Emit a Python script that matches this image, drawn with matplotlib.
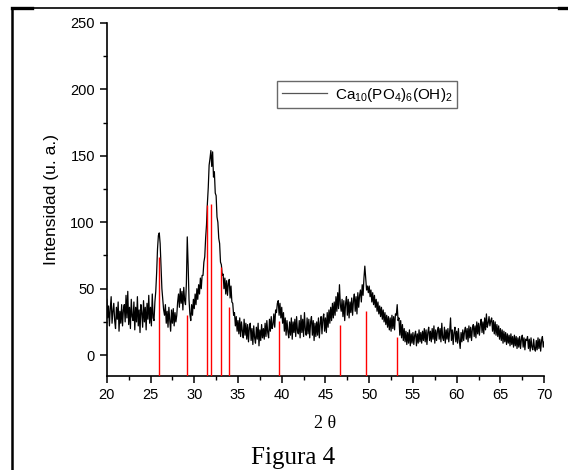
import matplotlib
matplotlib.use("Agg")
import matplotlib.pyplot as plt
import numpy as np
from matplotlib.lines import Line2D

plt.rcParams['font.family'] = ['Liberation Sans', 'DejaVu Sans']
plt.rcParams['mathtext.fontset'] = 'custom'
plt.rcParams['mathtext.rm'] = 'Liberation Sans'
plt.rcParams['mathtext.it'] = 'Liberation Sans:italic'

# Diffractogram at 0.1 deg steps (20.0 .. 70.0)
two_theta = np.round(np.arange(20.0, 70.05, 0.1), 1)
intensity = [
    42, 28, 37, 22, 35, 44, 24, 33, 39, 26,   # 20
    20, 36, 27, 40, 18, 33, 24, 38, 22, 34,   # 21
    38, 25, 45, 28, 48, 23, 36, 20, 42, 29,   # 22
    26, 40, 19, 36, 25, 44, 22, 34, 17, 38,   # 23
    32, 21, 41, 25, 36, 19, 39, 27, 45, 24,   # 24
    36, 22, 46, 28, 26, 40, 48, 62, 80, 90,   # 25
    92, 84, 66, 50, 42, 34, 30, 38, 24, 33,   # 26
    21, 36, 26, 18, 34, 24, 35, 22, 32, 25,   # 27
    30, 40, 46, 36, 50, 39, 48, 34, 51, 41,   # 28
    38, 54, 89, 68, 42, 31, 26, 38, 30, 42,   # 29
    35, 46, 38, 50, 42, 53, 46, 58, 50, 60,   # 30
    60, 70, 74, 88, 98, 114, 126, 143, 148, 154,  # 31
    142, 153, 134, 138, 122, 120, 104, 100, 88, 84,  # 32
    70, 68, 60, 61, 50, 58, 46, 56, 45, 54,   # 33
    57, 43, 52, 40, 39, 30, 32, 22, 29, 18,   # 34
    26, 16, 28, 14, 25, 18, 13, 27, 15, 24,   # 35
    12, 23, 10, 21, 24, 11, 20, 8, 22, 13,    # 36
    9, 21, 12, 24, 7, 19, 11, 23, 13, 20,     # 37
    12, 24, 14, 26, 17, 13, 27, 18, 29, 20,   # 38
    23, 31, 21, 34, 32, 39, 41, 30, 39, 28,   # 39
    36, 24, 32, 18, 28, 15, 26, 18, 13, 25,   # 40
    15, 28, 12, 25, 17, 27, 14, 29, 18, 16,   # 41
    26, 13, 30, 17, 27, 14, 32, 19, 15, 28,   # 42
    16, 27, 13, 25, 29, 15, 26, 11, 24, 14,   # 43
    25, 15, 28, 13, 24, 29, 16, 27, 31, 18,   # 44
    28, 17, 32, 21, 34, 24, 36, 26, 39, 28,   # 45
    40, 30, 44, 33, 47, 35, 53, 38, 33, 42,   # 46
    29, 41, 26, 39, 44, 30, 42, 28, 40, 32,   # 47
    43, 30, 41, 46, 33, 44, 31, 47, 36, 45,   # 48
    49, 40, 53, 45, 58, 67, 58, 49, 52, 47,   # 49
    52, 44, 49, 40, 47, 38, 45, 36, 42, 33,   # 50
    40, 31, 37, 29, 36, 27, 34, 25, 32, 23,   # 51
    30, 21, 29, 19, 28, 18, 30, 20, 29, 19,   # 52
    31, 30, 38, 26, 28, 15, 26, 13, 23, 11,   # 53
    20, 10, 18, 8, 17, 9, 19, 7, 16, 9,       # 54
    17, 8, 15, 18, 7, 16, 9, 19, 10, 17,      # 55
    9, 18, 11, 20, 10, 19, 8, 17, 21, 11,     # 56
    18, 10, 20, 12, 22, 9, 19, 11, 18, 21,    # 57
    12, 20, 10, 24, 13, 11, 21, 9, 19, 12,    # 58
    20, 10, 18, 28, 11, 19, 8, 17, 21, 10,    # 59
    18, 9, 20, 11, 5, 17, 10, 19, 11, 18,     # 60
    21, 12, 20, 10, 22, 13, 21, 11, 20, 23,   # 61
    14, 22, 13, 25, 16, 24, 15, 23, 27, 17,   # 62
    25, 16, 28, 19, 31, 21, 24, 29, 22, 26,   # 63
    28, 18, 26, 16, 25, 15, 23, 14, 22, 12,   # 64
    20, 11, 19, 9, 18, 10, 17, 8, 16, 9,      # 65
    15, 7, 16, 8, 14, 6, 15, 7, 14, 5,        # 66
    13, 6, 14, 5, 12, 15, 6, 13, 4, 12,       # 67
    11, 14, 5, 12, 3, 13, 6, 4, 12, 5,        # 68
    3, 11, 4, 13, 5, 12, 3, 11, 14, 6,        # 69
    10,                                       # 70
]

# Reference pattern (red sticks)
ref_pos = [26.0, 29.2, 31.5, 31.9, 33.1, 34.0, 39.7, 46.7, 49.6, 53.2]
ref_height = [74, 30, 113, 114, 66, 36, 26, 23, 33, 14]

ymin = -15.5

fig = plt.figure(figsize=(5.68, 4.70), dpi=100)
ax = fig.add_axes([0.188, 0.2006, 0.770, 0.7505])

line, = ax.plot(two_theta, intensity, color='black', lw=0.9)
ax.vlines(ref_pos, ymin, ref_height, color='red', lw=1.0, zorder=3)

ax.set_xlim(20, 70)
ax.set_ylim(ymin, 250)
ax.set_xticks(np.arange(20, 71, 5))
ax.set_xticks(np.arange(20, 70.1, 2.5), minor=True)
ax.set_yticks([0, 50, 100, 150, 200, 250])
ax.set_yticks(np.arange(0, 251, 25), minor=True)
ax.tick_params(which='major', direction='out', length=5, width=1.1, labelsize=10.5)
ax.tick_params(which='minor', direction='out', length=3, width=1.0)
for s in ['top', 'right']:
    ax.spines[s].set_visible(False)
for s in ['left', 'bottom']:
    ax.spines[s].set_linewidth(1.2)

ax.set_ylabel('Intensidad (u. a.)', fontsize=12.5, labelpad=8)
ax.set_xlabel('2 θ', family=['Liberation Serif', 'DejaVu Serif'], fontsize=13, labelpad=10)

leg = ax.legend([line], [r'Ca$_{10}$(PO$_4$)$_6$(OH)$_2$'], loc='upper left',
                bbox_to_anchor=(277 / 568, 1 - 81 / 470), bbox_transform=fig.transFigure,
                frameon=True, fancybox=False, fontsize=11, handlelength=3.0,
                handletextpad=0.5, borderpad=0.3, borderaxespad=0)
leg.get_frame().set_edgecolor('#444444')
leg.get_frame().set_linewidth(1.0)
leg.get_lines()[0].set_color('#555555')

fig.text(293 / 568, 1 - 458 / 470, 'Figura 4', family=['Liberation Serif', 'DejaVu Serif'],
         fontsize=18, ha='center', va='center')

# page frame (left and top border)
fig.add_artist(Line2D([12 / 568, 12 / 568], [0, 1 - 8 / 470], color='black', lw=1.8))
fig.add_artist(Line2D([12 / 568, 1], [1 - 8 / 470, 1 - 8 / 470], color='black', lw=1.2))
fig.add_artist(Line2D([12 / 568, 32 / 568], [1 - 8 / 470, 1 - 8 / 470], color='black', lw=2.4))
fig.add_artist(Line2D([559 / 568, 1], [1 - 8 / 470, 1 - 8 / 470], color='black', lw=2.4))

fig.savefig('out.png', dpi=100)
